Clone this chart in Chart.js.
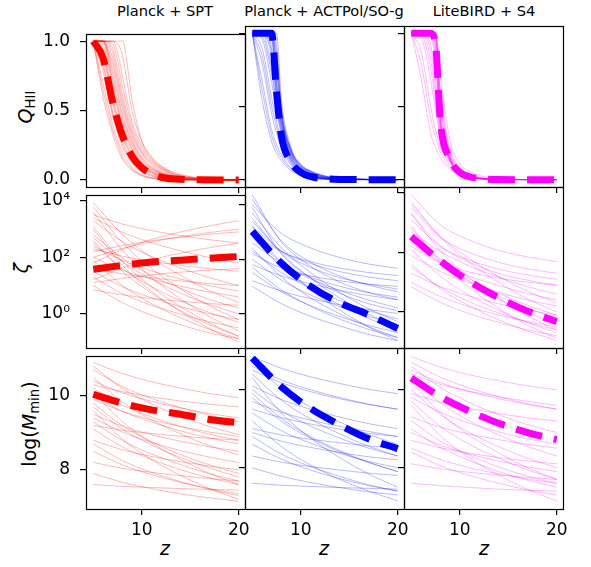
<!DOCTYPE html>
<html>
<head>
<meta charset="utf-8">
<script src="https://cdn.jsdelivr.net/npm/chart.js@4.4.1/dist/chart.umd.min.js"></script>
<style>
  body { margin: 0; background: #fff; }
  #fig { position: relative; width: 591px; height: 567px; font-family: "DejaVu Sans", sans-serif; overflow: hidden; }
  #fig canvas { position: absolute; }
  .txt { position: absolute; transform: translate(-50%, -50%); white-space: nowrap; color: #000; line-height: 1; }
  .ylab { transform: translate(-50%, -50%) rotate(-90deg); }
  .title { font-size: 14.6px; }
  .lab { font-size: 19px; }
  sub { font-size: 0.7em; vertical-align: -0.3em; line-height: 0; }
</style>
</head>
<body>
<div id="fig">
  <div class="txt title" style="left:165px;top:11px">Planck + SPT</div>
  <div class="txt title" style="left:324px;top:11px">Planck + ACTPol/SO-g</div>
  <div class="txt title" style="left:484px;top:11px">LiteBIRD + S4</div>
  <div class="txt lab ylab" style="left:25px;top:107px"><i>Q</i><sub>HII</sub></div>
  <div class="txt lab ylab" style="left:21px;top:268px"><i>ζ</i></div>
  <div class="txt lab ylab" style="left:29px;top:424px">log(<i>M</i><sub>min</sub>)</div>
  <div class="txt lab" style="left:165px;top:548px"><i>z</i></div>
  <div class="txt lab" style="left:324px;top:548px"><i>z</i></div>
  <div class="txt lab" style="left:484px;top:548px"><i>z</i></div>
</div>
<script>
// redshift grids the curves are sampled on
const zQ = [5, 6, 7, 7.5, 8, 9, 10, 11, 12, 14, 20];
const zFit = [5, 8, 11, 14, 17, 20];
const zTicks = [10, 20];

// ---- Q_HII ----
const qSptBest = [1, 0.88, 0.56, 0.43, 0.32, 0.17, 0.09, 0.045, 0.02, 0.005, 0];
const qSptSamples = [
  [1, 0.60, 0.33, 0.23, 0.15, 0.07, 0.03, 0.012, 0.005, 0, 0],
  [1, 0.65, 0.36, 0.26, 0.17, 0.08, 0.035, 0.015, 0.006, 0.001, 0],
  [1, 0.70, 0.40, 0.29, 0.20, 0.09, 0.04, 0.018, 0.008, 0.001, 0],
  [1, 0.78, 0.46, 0.34, 0.24, 0.12, 0.06, 0.028, 0.012, 0.002, 0],
  [1, 0.82, 0.48, 0.36, 0.26, 0.13, 0.07, 0.034, 0.016, 0.003, 0],
  [1, 0.85, 0.50, 0.38, 0.28, 0.15, 0.08, 0.04, 0.02, 0.004, 0],
  [1, 0.90, 0.55, 0.42, 0.31, 0.17, 0.09, 0.05, 0.025, 0.006, 0],
  [1, 0.92, 0.58, 0.44, 0.33, 0.18, 0.10, 0.055, 0.028, 0.007, 0],
  [1, 0.94, 0.60, 0.46, 0.35, 0.20, 0.11, 0.06, 0.03, 0.008, 0],
  [1, 0.97, 0.66, 0.51, 0.39, 0.22, 0.12, 0.065, 0.035, 0.01, 0],
  [1, 0.99, 0.69, 0.53, 0.41, 0.23, 0.13, 0.07, 0.04, 0.011, 0],
  [1, 1, 0.72, 0.56, 0.43, 0.25, 0.14, 0.08, 0.045, 0.013, 0],
  [1, 1, 0.76, 0.60, 0.46, 0.27, 0.15, 0.085, 0.048, 0.014, 0],
  [1, 1, 0.80, 0.63, 0.48, 0.28, 0.16, 0.09, 0.05, 0.015, 0],
  [1, 1, 0.84, 0.67, 0.52, 0.30, 0.17, 0.10, 0.055, 0.018, 0],
  [1, 1, 0.88, 0.71, 0.55, 0.32, 0.19, 0.11, 0.06, 0.02, 0],
  [1, 1, 0.92, 0.75, 0.58, 0.34, 0.20, 0.12, 0.07, 0.022, 0],
  [1, 1, 0.95, 0.80, 0.62, 0.36, 0.21, 0.13, 0.08, 0.025, 0],
  [1, 1, 0.98, 0.86, 0.68, 0.39, 0.23, 0.14, 0.085, 0.028, 0],
  [1, 1, 1, 0.92, 0.75, 0.42, 0.25, 0.15, 0.09, 0.03, 0],
  [1, 1, 1, 0.98, 0.90, 0.50, 0.28, 0.17, 0.10, 0.035, 0],
  [1, 1, 1, 1, 1, 0.58, 0.28, 0.16, 0.10, 0.04, 0]
];
const qActBest = [1, 1, 1, 0.6, 0.30, 0.12, 0.05, 0.022, 0.01, 0.002, 0];
const qActSamples = [
  [1, 0.55, 0.26, 0.18, 0.13, 0.06, 0.03, 0.012, 0.005, 0.001, 0],
  [1, 0.62, 0.30, 0.21, 0.15, 0.07, 0.032, 0.013, 0.005, 0.001, 0],
  [1, 0.68, 0.34, 0.24, 0.17, 0.08, 0.035, 0.015, 0.006, 0.001, 0],
  [1, 0.80, 0.45, 0.32, 0.22, 0.10, 0.045, 0.02, 0.008, 0.001, 0],
  [1, 0.85, 0.50, 0.36, 0.25, 0.11, 0.05, 0.022, 0.009, 0.002, 0],
  [1, 0.90, 0.56, 0.40, 0.27, 0.12, 0.055, 0.025, 0.01, 0.002, 0],
  [1, 0.96, 0.66, 0.47, 0.31, 0.13, 0.06, 0.028, 0.012, 0.002, 0],
  [1, 0.98, 0.72, 0.50, 0.33, 0.135, 0.062, 0.029, 0.012, 0.002, 0],
  [1, 1, 0.76, 0.52, 0.34, 0.14, 0.065, 0.03, 0.013, 0.003, 0],
  [1, 1, 0.84, 0.56, 0.36, 0.15, 0.07, 0.032, 0.015, 0.003, 0],
  [1, 1, 0.87, 0.58, 0.37, 0.155, 0.072, 0.034, 0.016, 0.004, 0],
  [1, 1, 0.90, 0.60, 0.38, 0.16, 0.075, 0.035, 0.017, 0.004, 0],
  [1, 1, 0.95, 0.64, 0.40, 0.17, 0.08, 0.04, 0.02, 0.005, 0],
  [1, 1, 0.97, 0.66, 0.41, 0.175, 0.082, 0.042, 0.021, 0.005, 0],
  [1, 1, 0.98, 0.68, 0.42, 0.18, 0.085, 0.045, 0.022, 0.006, 0],
  [1, 1, 1, 0.74, 0.44, 0.19, 0.09, 0.05, 0.025, 0.007, 0],
  [1, 1, 1, 0.78, 0.45, 0.195, 0.092, 0.052, 0.027, 0.007, 0],
  [1, 1, 1, 0.82, 0.47, 0.20, 0.095, 0.055, 0.03, 0.008, 0],
  [1, 1, 1, 0.87, 0.48, 0.205, 0.098, 0.058, 0.032, 0.008, 0],
  [1, 1, 1, 0.92, 0.50, 0.21, 0.10, 0.06, 0.033, 0.009, 0],
  [1, 1, 1, 1, 0.55, 0.22, 0.107, 0.06, 0.035, 0.01, 0]
];
const qS4Best = [1, 1, 1, 0.93, 0.40, 0.14, 0.05, 0.02, 0.008, 0.001, 0];
const qS4Samples = [
  [1, 0.70, 0.32, 0.22, 0.15, 0.07, 0.03, 0.012, 0.005, 0.001, 0],
  [1, 0.80, 0.42, 0.29, 0.19, 0.085, 0.035, 0.014, 0.006, 0.001, 0],
  [1, 0.88, 0.50, 0.34, 0.23, 0.10, 0.04, 0.016, 0.007, 0.001, 0],
  [1, 0.97, 0.68, 0.47, 0.30, 0.12, 0.045, 0.018, 0.008, 0.001, 0],
  [1, 0.99, 0.76, 0.53, 0.32, 0.125, 0.047, 0.019, 0.008, 0.001, 0],
  [1, 1, 0.82, 0.58, 0.34, 0.13, 0.048, 0.02, 0.008, 0.001, 0],
  [1, 1, 0.88, 0.64, 0.355, 0.13, 0.049, 0.02, 0.008, 0.001, 0],
  [1, 1, 0.92, 0.70, 0.37, 0.135, 0.05, 0.02, 0.008, 0.001, 0],
  [1, 1, 0.97, 0.80, 0.39, 0.14, 0.05, 0.02, 0.008, 0.001, 0],
  [1, 1, 0.99, 0.84, 0.40, 0.142, 0.051, 0.02, 0.008, 0.001, 0],
  [1, 1, 1, 0.88, 0.41, 0.145, 0.052, 0.021, 0.009, 0.001, 0],
  [1, 1, 1, 0.91, 0.425, 0.148, 0.054, 0.022, 0.009, 0.001, 0],
  [1, 1, 1, 0.94, 0.44, 0.15, 0.055, 0.022, 0.009, 0.001, 0],
  [1, 1, 1, 0.97, 0.48, 0.16, 0.06, 0.025, 0.01, 0.002, 0],
  [1, 1, 1, 0.99, 0.51, 0.17, 0.065, 0.028, 0.012, 0.002, 0],
  [1, 1, 1, 1, 0.54, 0.18, 0.07, 0.03, 0.013, 0.002, 0],
  [1, 1, 1, 1, 0.58, 0.195, 0.078, 0.035, 0.015, 0.003, 0],
  [1, 1, 1, 1, 0.62, 0.21, 0.085, 0.04, 0.018, 0.003, 0],
  [1, 1, 1, 1, 0.72, 0.27, 0.11, 0.06, 0.03, 0.006, 0]
];

// ---- zeta ----
const zetaSptBest = [38, 52, 68, 79, 93, 107];
const zetaSptSamples = [
  [8700, 650, 98, 23, 6.6, 2.5],
  [6300, 330, 40, 7.6, 1.9, 0.63],
  [4000, 180, 19.5, 3.4, 0.79, 0.25],
  [3200, 1500, 890, 590, 420, 320],
  [2000, 360, 107, 42, 19, 10],
  [1260, 71, 9.1, 1.8, 0.47, 0.16],
  [1000, 52, 6.3, 1.2, 0.3, 0.1],
  [630, 93, 23, 7.9, 3.2, 1.6],
  [500, 69, 17, 5.4, 2.1, 1.0],
  [320, 40, 9.1, 2.9, 1.1, 0.5],
  [250, 78, 33, 17, 9.8, 6.3],
  [200, 110, 72, 52, 40, 32],
  [100, 35, 17, 9.5, 5.9, 4],
  [100, 210, 350, 540, 760, 1000],
  [79, 10, 2.3, 0.72, 0.28, 0.13],
  [63, 190, 430, 790, 1300, 2000],
  [32, 9.1, 3.7, 1.8, 1.0, 0.63],
  [16, 42, 83, 140, 220, 320],
  [12.6, 18, 24, 30, 35, 40],
  [10, 2.5, 0.89, 0.41, 0.21, 0.13],
  [7.1, 4.7, 3.5, 2.8, 2.3, 2.0],
  [160, 260, 390, 510, 660, 790],
  [2500, 780, 330, 170, 98, 63],
  [40, 26, 19, 14.5, 11.7, 10],
  [400, 32, 5.4, 1.3, 0.41, 0.16],
  [20, 5.2, 2.0, 0.98, 0.52, 0.32]
];
const zetaActBest = [1050, 71, 10, 2.5, 0.89, 0.28];
const zetaActSamples = [
  [23000, 430, 55, 14.5, 5.9, 3.2],
  [16000, 470, 78, 24, 11, 6.3],
  [10000, 890, 260, 115, 66, 46],
  [5000, 260, 32, 6.0, 1.5, 0.5],
  [3200, 166, 20, 3.8, 0.95, 0.32],
  [2500, 190, 50, 21, 12, 7.9],
  [1600, 72, 7.8, 1.35, 0.32, 0.1],
  [1600, 200, 69, 35, 22, 16],
  [1000, 190, 81, 47, 32, 25],
  [790, 74, 22, 10, 5.8, 4.0],
  [630, 51, 8.5, 2.1, 0.65, 0.25],
  [400, 68, 19, 7.1, 3.1, 1.6],
  [250, 22, 3.8, 0.98, 0.32, 0.13],
  [200, 32, 8.5, 3.0, 1.26, 0.63],
  [160, 46, 24, 16, 12, 10],
  [100, 17, 4.8, 1.8, 0.78, 0.4],
  [63, 24, 12.3, 7.1, 4.6, 3.2],
  [50, 7.4, 1.86, 0.63, 0.26, 0.13],
  [32, 6.3, 1.95, 0.78, 0.36, 0.2],
  [16, 6.6, 3.5, 2.1, 1.4, 1.0],
  [10, 2.3, 0.79, 0.35, 0.17, 0.1],
  [7900, 155, 21, 5.6, 2.3, 1.26]
];
const zetaS4Best = [340, 52, 10.7, 3.0, 1.07, 0.47];
const zetaS4Samples = [
  [8700, 850, 260, 117, 71, 49],
  [5000, 330, 46, 10, 2.75, 1.0],
  [4000, 350, 62, 15.5, 5.0, 2.0],
  [2000, 112, 14.5, 2.8, 0.74, 0.25],
  [2000, 166, 47, 20, 11.7, 7.9],
  [1260, 158, 55, 27.5, 17.4, 12.6],
  [790, 48, 6.5, 1.35, 0.36, 0.13],
  [630, 60, 11, 2.9, 0.95, 0.4],
  [500, 107, 35, 14.8, 7.1, 4.0],
  [400, 55, 13, 4.3, 1.66, 0.79],
  [320, 44, 10.5, 3.4, 1.32, 0.63],
  [200, 47, 22, 13.8, 10, 7.9],
  [160, 42, 16, 7.8, 4.2, 2.5],
  [126, 15.8, 3.6, 1.15, 0.44, 0.2],
  [79, 23, 9.3, 4.6, 2.5, 1.6],
  [40, 6.0, 1.6, 0.55, 0.23, 0.11],
  [32, 6.8, 2.2, 0.93, 0.45, 0.25],
  [20, 7.1, 3.4, 1.9, 1.17, 0.79],
  [10, 3.3, 1.5, 0.79, 0.48, 0.32],
  [3200, 320, 100, 47, 28, 20],
  [7.1, 2.1, 0.87, 0.45, 0.25, 0.16]
];

// ---- log(M_min) ----
const mminSptBest = [10.04, 9.8, 9.62, 9.5, 9.36, 9.27];
const mminSptSamples = [
  [10.9, 10.6, 10.38, 10.21, 10.06, 9.95],
  [10.8, 10.2, 9.78, 9.45, 9.17, 8.95],
  [10.7, 10.25, 9.93, 9.68, 9.47, 9.3],
  [10.5, 9.83, 9.35, 8.97, 8.65, 8.4],
  [10.4, 10.08, 9.85, 9.67, 9.52, 9.4],
  [10.3, 10.11, 9.97, 9.86, 9.77, 9.7],
  [10.2, 9.75, 9.43, 9.17, 8.96, 8.8],
  [10.1, 9.3, 8.73, 8.28, 7.9, 7.6],
  [9.9, 9.58, 9.35, 9.17, 9.02, 8.9],
  [9.7, 9.1, 8.67, 8.33, 8.05, 7.8],
  [9.6, 8.83, 8.28, 7.85, 7.49, 7.2],
  [9.5, 9.18, 8.95, 8.77, 8.62, 8.5],
  [9.4, 9.02, 8.74, 8.52, 8.34, 8.2],
  [9.3, 8.79, 8.43, 8.14, 7.89, 7.7],
  [9.1, 8.62, 8.28, 8.0, 7.78, 7.6],
  [8.8, 8.54, 8.36, 8.22, 8.1, 8.0],
  [8.7, 8.25, 7.93, 7.68, 7.47, 7.3],
  [8.5, 8.13, 7.87, 7.66, 7.49, 7.35],
  [8.2, 8.04, 7.93, 7.84, 7.76, 7.7],
  [7.9, 7.66, 7.49, 7.35, 7.24, 7.15],
  [7.6, 7.55, 7.52, 7.49, 7.47, 7.45],
  [10.0, 9.58, 9.29, 9.05, 8.86, 8.7],
  [9.2, 9.07, 8.98, 8.91, 8.85, 8.8],
  [9.8, 9.19, 8.76, 8.41, 8.13, 7.9]
];
const mminActBest = [10.81, 10.07, 9.52, 9.1, 8.74, 8.49];
const mminActSamples = [
  [10.85, 10.55, 10.33, 10.16, 10.01, 9.9],
  [10.7, 10.03, 9.55, 9.17, 8.85, 8.6],
  [10.6, 10.25, 10.0, 9.8, 9.63, 9.5],
  [10.5, 10.18, 9.95, 9.77, 9.62, 9.5],
  [10.4, 9.73, 9.25, 8.87, 8.55, 8.3],
  [10.3, 9.4, 8.76, 8.26, 7.84, 7.5],
  [10.1, 9.75, 9.5, 9.3, 9.13, 9.0],
  [9.9, 9.26, 8.8, 8.44, 8.14, 7.9],
  [9.8, 9.19, 8.76, 8.41, 8.13, 7.9],
  [9.7, 9.42, 9.22, 9.06, 8.93, 8.8],
  [9.5, 9.28, 9.12, 8.99, 8.88, 8.8],
  [9.4, 8.95, 8.63, 8.37, 8.16, 8.0],
  [9.2, 8.54, 8.07, 7.7, 7.4, 7.15],
  [8.9, 8.68, 8.52, 8.39, 8.28, 8.2],
  [8.8, 8.35, 8.03, 7.78, 7.56, 7.4],
  [8.6, 8.22, 7.94, 7.72, 7.54, 7.4],
  [8.3, 8.14, 8.03, 7.94, 7.86, 7.8],
  [8.0, 7.78, 7.62, 7.49, 7.38, 7.3],
  [7.6, 7.55, 7.52, 7.49, 7.47, 7.45],
  [10.0, 9.46, 9.07, 8.76, 8.5, 8.3],
  [9.0, 8.84, 8.73, 8.64, 8.56, 8.5]
];
const mminS4Best = [10.3, 9.82, 9.45, 9.14, 8.9, 8.72];
const mminS4Samples = [
  [10.85, 10.58, 10.38, 10.23, 10.1, 10.0],
  [10.7, 10.32, 10.04, 9.82, 9.64, 9.5],
  [10.6, 10.06, 9.67, 9.36, 9.1, 8.9],
  [10.5, 10.18, 9.95, 9.77, 9.62, 9.5],
  [10.4, 10.14, 9.96, 9.82, 9.7, 9.6],
  [10.3, 9.66, 9.2, 8.84, 8.54, 8.3],
  [10.2, 9.4, 8.83, 8.38, 8.0, 7.7],
  [10.0, 9.36, 8.9, 8.54, 8.24, 8.0],
  [9.9, 9.68, 9.52, 9.39, 9.28, 9.2],
  [9.8, 9.42, 9.14, 8.92, 8.74, 8.6],
  [9.7, 9.06, 8.6, 8.24, 7.94, 7.7],
  [9.6, 8.82, 8.25, 7.81, 7.44, 7.15],
  [9.3, 9.04, 8.86, 8.72, 8.6, 8.5],
  [9.2, 8.68, 8.32, 8.02, 7.78, 7.6],
  [9.0, 8.52, 8.18, 7.9, 7.68, 7.5],
  [8.9, 8.58, 8.35, 8.17, 8.02, 7.9],
  [8.7, 8.51, 8.37, 8.26, 8.17, 8.1],
  [8.5, 8.21, 8.0, 7.84, 7.71, 7.6],
  [8.4, 8.05, 7.8, 7.6, 7.43, 7.3],
  [8.1, 7.97, 7.88, 7.81, 7.75, 7.7],
  [7.6, 7.54, 7.49, 7.45, 7.42, 7.4]
];

const colours = [[255, 0, 0], [0, 0, 255], [255, 0, 255]];

// layout of the 3x3 grid (no gaps between panels)
const panelLeft = [86, 245, 404];
const panelTop = [26, 187, 348];
const panelW = 159, panelH = 161;
const padL = 60, padT = 12, padR = 14, padB = 32;

const supLabels = { 1: '10\u2070', 100: '10\u00b2', 10000: '10\u2074' };

const rows = [
  { xs: zQ, type: 'linear', ticks: [0, 0.5, 1], fmt: v => v.toFixed(1),
    range: [[-0.05, 1.05], [-0.05, 1.05], [-0.05, 1.05]],
    best: [qSptBest, qActBest, qS4Best], samples: [qSptSamples, qActSamples, qS4Samples] },
  { xs: zFit, type: 'logarithmic', ticks: [1, 100, 10000], fmt: v => supLabels[v] || '',
    range: [[0.0617, 15850], [0.0537, 45000], [0.0617, 15850]],
    best: [zetaSptBest, zetaActBest, zetaS4Best], samples: [zetaSptSamples, zetaActSamples, zetaS4Samples] },
  { xs: zFit, type: 'linear', ticks: [8, 10], fmt: v => String(v),
    range: [[6.94, 11.07], [6.94, 11.07], [6.94, 11.07]],
    best: [mminSptBest, mminActBest, mminS4Best], samples: [mminSptSamples, mminActSamples, mminS4Samples] }
];

Chart.defaults.font.family = "'DejaVu Sans', sans-serif";

const frame = {
  id: 'frame',
  afterDraw(chart) {
    const a = chart.chartArea;
    const ctx = chart.ctx;
    ctx.save();
    ctx.strokeStyle = '#000';
    ctx.lineWidth = 1.2;
    ctx.strokeRect(Math.round(a.left) + 0.5, Math.round(a.top) + 0.5,
      Math.round(a.right - a.left), Math.round(a.bottom - a.top));
    ctx.restore();
  }
};

const fig = document.getElementById('fig');

function makePanel(r, c) {
  const spec = rows[r];
  const rgb = colours[c].join(',');
  const toPts = vals => spec.xs.map((z, i) => ({ x: z, y: vals[i] }));

  const datasets = [{
    data: toPts(spec.best[c]),
    borderColor: 'rgb(' + rgb + ')',
    borderWidth: 7,
    borderDash: [27, 12],
    cubicInterpolationMode: 'monotone',
    order: 0
  }];
  spec.samples[c].forEach(s => {
    datasets.push({
      data: toPts(s),
      borderColor: 'rgba(' + rgb + ',0.28)',
      borderWidth: 1,
      cubicInterpolationMode: 'monotone',
      order: 1
    });
  });

  const canvas = document.createElement('canvas');
  canvas.width = padL + panelW + padR;
  canvas.height = padT + panelH + padB;
  canvas.style.left = (panelLeft[c] - padL) + 'px';
  canvas.style.top = (panelTop[r] - padT) + 'px';
  fig.appendChild(canvas);

  const tickGrid = { drawOnChartArea: false, drawTicks: true, tickLength: 6, color: '#000', lineWidth: 1.2 };

  new Chart(canvas.getContext('2d'), {
    type: 'line',
    data: { datasets: datasets },
    options: {
      responsive: false,
      animation: false,
      devicePixelRatio: 1,
      layout: { padding: { left: 0, top: padT, right: padR, bottom: 0 } },
      elements: { point: { radius: 0 }, line: { tension: 0 } },
      plugins: { legend: { display: false }, tooltip: { enabled: false } },
      scales: {
        x: {
          type: 'linear', min: 4.25, max: 20.65,
          afterFit: s => { s.height = padB; },
          afterBuildTicks: s => { s.ticks = zTicks.map(v => ({ value: v })); },
          grid: tickGrid,
          border: { display: false },
          ticks: { display: r === 2, autoSkip: false, maxRotation: 0, color: '#000',
                   font: { size: 17 }, padding: 5 }
        },
        y: {
          type: spec.type, min: spec.range[c][0], max: spec.range[c][1],
          afterFit: s => { s.width = padL; },
          afterBuildTicks: s => { s.ticks = spec.ticks.map(v => ({ value: v })); },
          grid: tickGrid,
          border: { display: false },
          ticks: { display: c === 0, autoSkip: false, color: '#000', font: { size: 17 },
                   padding: 10, callback: v => spec.fmt(v) }
        }
      }
    },
    plugins: [frame]
  });
}

for (let r = 0; r < 3; r++) {
  for (let c = 0; c < 3; c++) makePanel(r, c);
}
</script>
</body>
</html>
